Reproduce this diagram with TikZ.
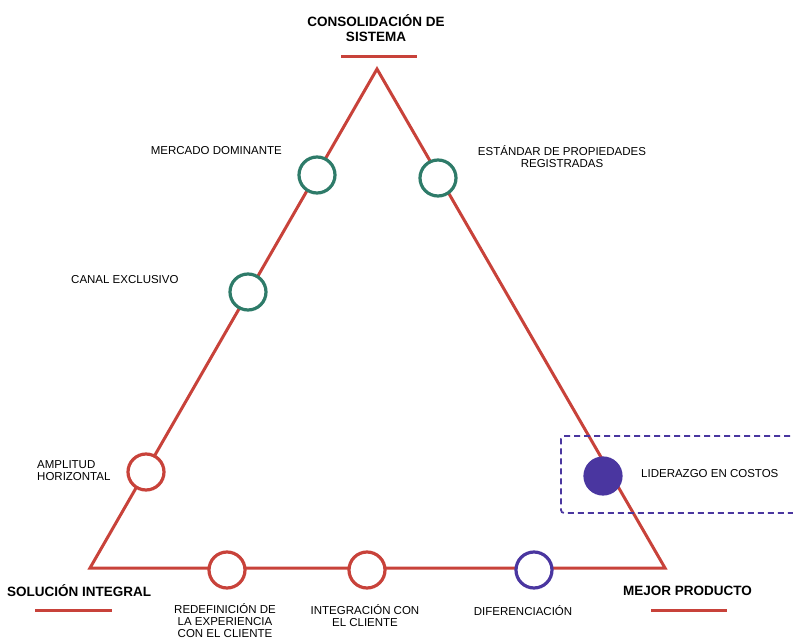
\documentclass[tikz,border=0pt]{standalone}
\usepackage{fontspec}
\setmainfont{Liberation Sans}
\begin{document}
\definecolor{edgered}{HTML}{C8423A}
\definecolor{tealring}{HTML}{2E7B69}
\definecolor{violet}{HTML}{4A36A0}
\begin{tikzpicture}[x=1pt,y=-1pt,
  ring/.style={circle,draw,line width=3.2pt,fill=white,minimum size=36pt,inner sep=0pt},
  tealnode/.style={ring,draw=tealring},
  rednode/.style={ring,draw=edgered},
  violetnode/.style={ring,draw=violet},
  solidnode/.style={ring,draw=violet,fill=violet},
  lbl/.style={font=\fontsize{11.5}{12}\selectfont,inner sep=0pt,align=center},
  corner/.style={font=\fontsize{13.5}{15.5}\selectfont\bfseries,inner sep=0pt,align=center},
  edge/.style={draw=edgered,line width=3pt,line join=miter},
  bar/.style={draw=edgered,line width=3pt}]
\useasboundingbox (0,0) rectangle (793,639);

% triangle corners
\coordinate (top) at (377,69);
\coordinate (bl) at (90,568);
\coordinate (br) at (665,568);
\path[edge] (top) -- (br) -- (bl) -- cycle;

% highlight frame around cost leadership
\draw[violet,line width=1.8pt,dash pattern=on 6pt off 4pt,rounded corners=3pt]
  (800,436) -- (561,436) -- (561,513) -- (800,513);

% nodes along the edges
\node[tealnode] (md) at (317,175) {};
\node[tealnode] (ep) at (438,178) {};
\node[tealnode] (ce) at (248,292) {};
\node[rednode] (ah) at (146,472) {};
\node[solidnode] (lc) at (603,476) {};
\node[rednode] (re) at (227,570) {};
\node[rednode] (ic) at (367,570) {};
\node[violetnode] (df) at (534,570) {};

% corner titles
\node[corner] (t1) at (376,28) {CONSOLIDACIÓN DE\\SISTEMA};
\coordinate (t1a) at (341,57); \coordinate (t1b) at (417,57);
\path[bar] (t1a) -- (t1b);
\node[corner,anchor=west] (t2) at (7,591) {SOLUCIÓN INTEGRAL};
\coordinate (t2a) at (35,610); \coordinate (t2b) at (112,610);
\path[bar] (t2a) -- (t2b);
\node[corner,anchor=west] (t3) at (623,591) {MEJOR PRODUCTO};
\coordinate (t3a) at (651,610); \coordinate (t3b) at (727,610);
\path[bar] (t3a) -- (t3b);

% labels
\node[lbl,anchor=east] (l1) at (282,151) {MERCADO DOMINANTE};
\node[lbl] (l2) at (562,157) {ESTÁNDAR DE PROPIEDADES\\REGISTRADAS};
\node[lbl,anchor=west] (l3) at (71,280) {CANAL EXCLUSIVO};
\node[lbl,anchor=west,align=left] (l4) at (37,471) {AMPLITUD\\HORIZONTAL};
\node[lbl,anchor=west] (l5) at (641,474) {LIDERAZGO EN COSTOS};
\node[lbl] (l6) at (225,621) {REDEFINICIÓN DE\\LA EXPERIENCIA\\CON EL CLIENTE};
\node[lbl] (l7) at (365,616) {INTEGRACIÓN CON\\EL CLIENTE};
\node[lbl] (l8) at (523,611) {DIFERENCIACIÓN};
\end{tikzpicture}
\end{document}
